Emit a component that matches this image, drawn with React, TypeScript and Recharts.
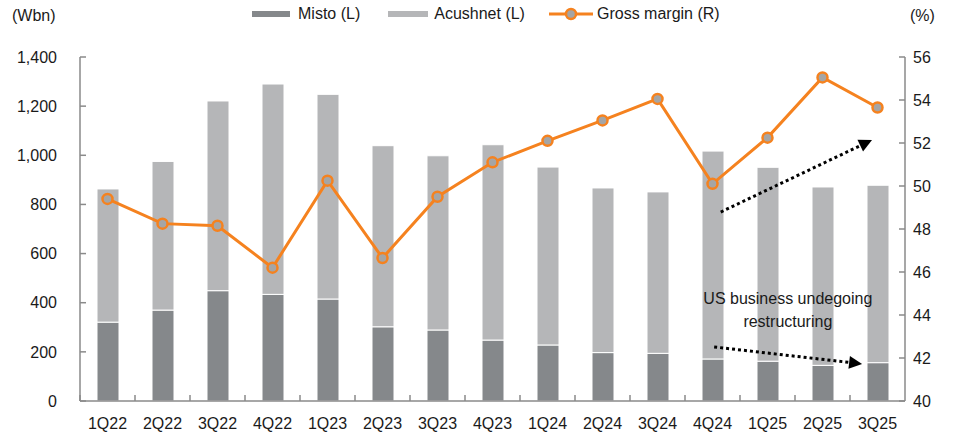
import React from "react";
import {
  ComposedChart,
  Bar,
  Line,
  XAxis,
  YAxis,
  ReferenceLine,
  ReferenceDot,
} from "recharts";

const quarters = [
  "1Q22", "2Q22", "3Q22", "4Q22", "1Q23", "2Q23", "3Q23", "4Q23",
  "1Q24", "2Q24", "3Q24", "4Q24", "1Q25", "2Q25", "3Q25",
];
const misto = [321, 370, 449, 434, 415, 302, 289, 248, 228, 197, 194, 171, 162, 145, 156];
const acushnet = [542, 605, 772, 856, 833, 737, 709, 795, 724, 670, 657, 846, 789, 726, 722];
const grossMargin = [49.4, 48.25, 48.15, 46.2, 50.25, 46.65, 49.5, 51.1, 52.1, 53.05, 54.05, 50.1, 52.25, 55.05, 53.65];

const leftTicks = [0, 200, 400, 600, 800, 1000, 1200, 1400];
const rightTicks = [40, 42, 44, 46, 48, 50, 52, 54, 56];

const annotationText = ["US business undegoing", "restructuring"];
// annotation positions in data units (x: category-index units on aux axis, y: left axis units)
const arrowUp = { x1: 11.65, y1: 769, x2: 14.4, y2: 1062 };
const arrowDown = { x1: 11.53, y1: 220, x2: 14.22, y2: 151 };
const textAnchorPt = { x: 12.87, y: 370 };

const data = quarters.map((q, i) => ({
  q,
  idx: i + 0.5,
  misto: misto[i],
  acushnet: acushnet[i],
  gm: grossMargin[i],
}));

const FONT = "'Liberation Sans', Arial, sans-serif";
const AXIS = "#8a8a8a";
const TXT = "#1a1a1a";

const XTick = (props: any) => {
  const { x, y, payload } = props;
  const off = payload.offset ?? 27.5;
  const axisY = y;
  return (
    <g>
      <line x1={x - off} x2={x - off} y1={axisY} y2={axisY - 6} stroke={AXIS} strokeWidth={1.5} />
      <text x={x} y={axisY + 17} dy="0.71em" textAnchor="middle" fontSize={16} fill={TXT} fontFamily={FONT}>
        {payload.value}
      </text>
    </g>
  );
};

const LeftTick = (props: any) => {
  const { x, y, payload } = props;
  return (
    <g>
      <line x1={x} x2={x + 6} y1={y} y2={y} stroke={AXIS} strokeWidth={1.5} />
      <text x={x - 23} y={y} dy="0.355em" textAnchor="end" fontSize={16} fill={TXT} fontFamily={FONT}>
        {payload.value.toLocaleString("en-US")}
      </text>
    </g>
  );
};

const RightTick = (props: any) => {
  const { x, y, payload } = props;
  return (
    <g>
      <line x1={x} x2={x - 6} y1={y} y2={y} stroke={AXIS} strokeWidth={1.5} />
      <text x={x + 8} y={y} dy="0.355em" textAnchor="start" fontSize={16} fill={TXT} fontFamily={FONT}>
        {payload.value}
      </text>
    </g>
  );
};

const DottedArrow = (props: any) => {
  const { x1, y1, x2, y2 } = props;
  if ([x1, y1, x2, y2].some((v) => v === undefined || isNaN(v))) return null;
  const ang = Math.atan2(y2 - y1, x2 - x1);
  const L = 13;
  const W = 6.5;
  const bx = x2 - L * Math.cos(ang);
  const by = y2 - L * Math.sin(ang);
  const px = -Math.sin(ang) * W;
  const py = Math.cos(ang) * W;
  return (
    <g>
      <line x1={x1} y1={y1} x2={bx} y2={by} stroke="#000" strokeWidth={3} strokeDasharray="3 3" />
      <polygon points={`${x2},${y2} ${bx + px},${by + py} ${bx - px},${by - py}`} fill="#000" />
    </g>
  );
};

const AnnotationLabel = (props: any) => {
  const { viewBox } = props;
  const cx = viewBox.x + (viewBox.width || 0) / 2;
  const cy = viewBox.y + (viewBox.height || 0) / 2;
  return (
    <text x={cx} y={cy} textAnchor="middle" fontSize={16} fill={TXT} fontFamily={FONT}>
      <tspan x={cx} dy="-0.35em">{annotationText[0]}</tspan>
      <tspan x={cx} dy="1.4em">{annotationText[1]}</tspan>
    </text>
  );
};

const Legend = () => (
  <div
    style={{
      position: "absolute",
      top: 5,
      left: 252,
      display: "flex",
      alignItems: "center",
      fontFamily: FONT,
      fontSize: 16,
      color: TXT,
      whiteSpace: "nowrap",
    }}
  >
    <svg width={38} height={6} style={{ marginRight: 8 }}>
      <rect width={38} height={6} fill="#85888b" />
    </svg>
    <span style={{ marginRight: 28 }}>Misto (L)</span>
    <svg width={40} height={6} style={{ marginRight: 6 }}>
      <rect width={40} height={6} fill="#b5b6b8" />
    </svg>
    <span style={{ marginRight: 24 }}>Acushnet (L)</span>
    <svg width={44} height={14} style={{ marginRight: 4 }}>
      <line x1={0} x2={44} y1={7} y2={7} stroke="#F5821F" strokeWidth={3} />
      <circle cx={22} cy={7} r={5} fill="#a5a5a5" stroke="#F5821F" strokeWidth={2.5} />
    </svg>
    <span>Gross margin (R)</span>
  </div>
);

export default function App() {
  return (
    <div
      style={{
        position: "absolute",
        left: 0,
        top: 0,
        width: 955,
        height: 439,
        background: "#fff",
        overflow: "hidden",
      }}
    >
      <div style={{ position: "absolute", left: 12, top: 7, fontFamily: FONT, fontSize: 16, color: TXT }}>(Wbn)</div>
      <div style={{ position: "absolute", left: 910, top: 7, fontFamily: FONT, fontSize: 16, color: TXT }}>(%)</div>
      <Legend />
      <ComposedChart
        width={955}
        height={439}
        data={data}
        margin={{ top: 57, right: 0, bottom: 0, left: 8 }}
        barCategoryGap={0}
      >
        <XAxis
          xAxisId="cat"
          dataKey="q"
          type="category"
          height={38}
          tickLine={false}
          tickSize={0}
          tickMargin={0}
          axisLine={{ stroke: AXIS, strokeWidth: 1.5 }}
          tick={<XTick />}
          interval={0}
        />
        <XAxis
          xAxisId="num"
          dataKey="idx"
          type="number"
          domain={[0, 15]}
          allowDataOverflow
          padding={{ left: 0, right: 0 }}
          hide
          height={0}
        />
        <YAxis
          yAxisId="left"
          orientation="left"
          width={72}
          domain={[0, 1400]}
          ticks={leftTicks}
          interval={0}
          tickLine={false}
          tickSize={0}
          tickMargin={0}
          axisLine={{ stroke: AXIS, strokeWidth: 1.5 }}
          tick={<LeftTick />}
        />
        <YAxis
          yAxisId="right"
          orientation="right"
          width={50}
          domain={[40, 56]}
          ticks={rightTicks}
          interval={0}
          tickLine={false}
          tickSize={0}
          tickMargin={0}
          axisLine={{ stroke: AXIS, strokeWidth: 1.5 }}
          tick={<RightTick />}
        />
        <Bar
          xAxisId="cat"
          yAxisId="left"
          dataKey="misto"
          stackId="s"
          fill="#85888b"
          stroke="#ffffff"
          strokeWidth={1}
          barSize={22}
          isAnimationActive={false}
        />
        <Bar
          xAxisId="cat"
          yAxisId="left"
          dataKey="acushnet"
          stackId="s"
          fill="#b5b6b8"
          stroke="#ffffff"
          strokeWidth={1}
          barSize={22}
          isAnimationActive={false}
        />
        <Line
          xAxisId="cat"
          yAxisId="right"
          dataKey="gm"
          type="linear"
          stroke="#F5821F"
          strokeWidth={3}
          dot={{ r: 5, fill: "#a5a5a5", stroke: "#F5821F", strokeWidth: 2.5 }}
          activeDot={false}
          isAnimationActive={false}
        />
        <ReferenceLine
          xAxisId="num"
          yAxisId="left"
          segment={[
            { x: arrowUp.x1, y: arrowUp.y1 },
            { x: arrowUp.x2, y: arrowUp.y2 },
          ]}
          shape={<DottedArrow />}
          ifOverflow="visible"
        />
        <ReferenceLine
          xAxisId="num"
          yAxisId="left"
          segment={[
            { x: arrowDown.x1, y: arrowDown.y1 },
            { x: arrowDown.x2, y: arrowDown.y2 },
          ]}
          shape={<DottedArrow />}
          ifOverflow="visible"
        />
        <ReferenceDot
          xAxisId="num"
          yAxisId="left"
          x={textAnchorPt.x}
          y={textAnchorPt.y}
          r={0}
          fill="none"
          stroke="none"
          label={<AnnotationLabel />}
          ifOverflow="visible"
        />
      </ComposedChart>
    </div>
  );
}
